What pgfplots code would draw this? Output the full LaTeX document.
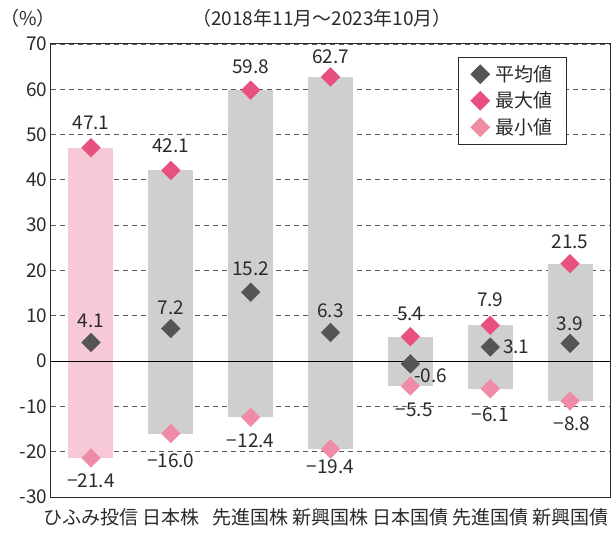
\documentclass[border=0pt]{standalone}
\usepackage{fontspec}
\setmainfont{Noto Sans CJK JP}
\usepackage{pgfplots}
\usepackage{pgfplotstable}
\pgfplotsset{compat=1.18}

\definecolor{avgc}{HTML}{555555}
\definecolor{maxc}{HTML}{E8507F}
\definecolor{minc}{HTML}{EE8CA6}
\definecolor{pinkbar}{HTML}{F7C8D6}
\definecolor{graybar}{HTML}{CFCFCF}
\definecolor{gridc}{HTML}{5A5A5A}
\definecolor{txt}{HTML}{2A2A2A}
\newcommand\fs{\fontsize{19}{22}\selectfont}

\pgfplotstableread{
x min max
0 -21.4 47.1
}\pinkdata
\pgfplotstableread{
x min max
1 -16.0 42.1
2 -12.4 59.8
3 -19.4 62.7
4 -5.5 5.4
5 -6.1 7.9
6 -8.8 21.5
}\graydata
\pgfplotstableread{
x y lab dx dy
0 4.1 4.1 0 22
1 7.2 7.2 0 21
2 15.2 15.2 0 24
3 6.3 6.3 0 22
4 -0.6 -0.6 20.5 -12
5 3.1 3.1 26 0
6 3.9 3.9 0 20
}\avgdata
\pgfplotstableread{
x y lab dx dy
0 47.1 47.1 0 25
1 42.1 42.1 0 25
2 59.8 59.8 0 23
3 62.7 62.7 0 20
4 5.4 5.4 0 23
5 7.9 7.9 0 26
6 21.5 21.5 0 22
}\maxdata
\pgfplotstableread{
x y lab dx dy
0 -21.4 −21.4 0 -23
1 -16.0 −16.0 0 -27
2 -12.4 −12.4 0 -23
3 -19.4 −19.4 0 -18
4 -5.5 −5.5 4 -24
5 -6.1 −6.1 0 -26
6 -8.8 −8.8 2 -23
}\mindata

\begin{document}
\begin{tikzpicture}
\path[use as bounding box] (-51pt,-39pt) rectangle (565pt,497pt);
\begin{axis}[
  at={(0,0)}, anchor=south west,
  scale only axis, width=559pt, height=453pt,
  xmin=-0.5, xmax=6.5, ymin=-30, ymax=70,
  xtick={0,1,2,3,4,5,6},
  xticklabels={ひふみ投信,日本株,先進国株,新興国株,日本国債,先進国債,新興国債},
  ytick={-30,-20,-10,0,10,20,30,40,50,60,70},
  yticklabels={-30,-20,-10,0,10,20,30,40,50,60,70},
  major tick length=0pt,
  ymajorgrids,
  grid style={gridc, dash pattern=on 5pt off 4pt, line width=0.8pt},
  axis line style={line width=1pt, txt},
  tick label style={font=\fs, text=txt},
  xticklabel style={yshift=-8pt},
  clip=false,
  legend style={at={(0.923,0.971)}, anchor=north east, draw=txt, line width=0.8pt,
    fill=white, font=\fs, text=txt, inner xsep=12pt, inner ysep=6pt, row sep=5pt,
    /tikz/every odd column/.append style={column sep=4pt}},
  legend cell align=left,
  every node near coord/.append style={font=\fs, text=txt},
]
\addplot[forget plot, mark=none, draw=none,
  error bars/.cd, y dir=plus, y explicit, error mark=none,
  error bar style={draw=pinkbar, line width=45pt, solid}]
  table[x=x, y=min, y error plus expr=\thisrow{max}-\thisrow{min}] {\pinkdata};
\addplot[forget plot, mark=none, draw=none,
  error bars/.cd, y dir=plus, y explicit, error mark=none,
  error bar style={draw=graybar, line width=45pt, solid}]
  table[x=x, y=min, y error plus expr=\thisrow{max}-\thisrow{min}] {\graydata};
\addplot[forget plot, black, line width=0.9pt, mark=none] coordinates {(-0.5,0) (6.5,0)};

\addplot[only marks, color=avgc, mark=square*, mark size=6.6pt,
  mark options={rotate=45, solid, draw=avgc, fill=avgc},
  nodes near coords, point meta=explicit symbolic,
  visualization depends on={\thisrow{dx}\as\dx},
  visualization depends on={\thisrow{dy}\as\dy},
  every node near coord/.append style={anchor=center, xshift=\dx pt, yshift=\dy pt}]
  table[x=x, y=y, meta=lab] {\avgdata};
\addlegendentry{平均値}
\addplot[only marks, color=maxc, mark=square*, mark size=6.6pt,
  mark options={rotate=45, solid, draw=maxc, fill=maxc},
  nodes near coords, point meta=explicit symbolic,
  visualization depends on={\thisrow{dx}\as\dx},
  visualization depends on={\thisrow{dy}\as\dy},
  every node near coord/.append style={anchor=center, xshift=\dx pt, yshift=\dy pt}]
  table[x=x, y=y, meta=lab] {\maxdata};
\addlegendentry{最大値}
\addplot[only marks, color=minc, mark=square*, mark size=6.6pt,
  mark options={rotate=45, solid, draw=minc, fill=minc},
  nodes near coords, point meta=explicit symbolic,
  visualization depends on={\thisrow{dx}\as\dx},
  visualization depends on={\thisrow{dy}\as\dy},
  every node near coord/.append style={anchor=center, xshift=\dx pt, yshift=\dy pt}]
  table[x=x, y=y, meta=lab] {\mindata};
\addlegendentry{最小値}

\node[font=\fs, text=txt] at (axis description cs:0.485,1.057) {（2018年11月～2023年10月）};
\node[font=\fs, text=txt] at (axis description cs:-0.041,1.057) {（\%）};
\end{axis}
\end{tikzpicture}
\end{document}
